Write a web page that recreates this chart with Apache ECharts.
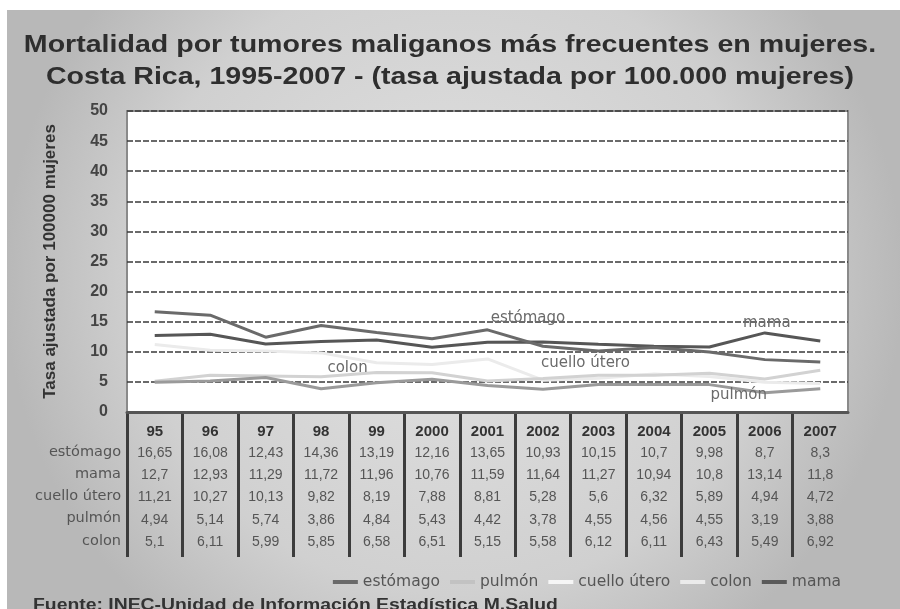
<!DOCTYPE html>
<html><head><meta charset="utf-8">
<script src="https://cdn.jsdelivr.net/npm/echarts@6/dist/echarts.min.js"></script>
<style>html,body{margin:0;padding:0;background:#fff;}#c{width:900px;height:609px;}</style>
</head><body><div id="c"></div>
<script>
const years = ['95','96','97','98','99','2000','2001','2002','2003','2004','2005','2006','2007'];
const seriesNames = ['estómago','mama','cuello útero','pulmón','colon'];
const estomago = [16.65,16.08,12.43,14.36,13.19,12.16,13.65,10.93,10.15,10.7,9.98,8.7,8.3];
const mama = [12.7,12.93,11.29,11.72,11.96,10.76,11.59,11.64,11.27,10.94,10.8,13.14,11.8];
const cuello = [11.21,10.27,10.13,9.82,8.19,7.88,8.81,5.28,5.6,6.32,5.89,4.94,4.72];
const pulmon = [4.94,5.14,5.74,3.86,4.84,5.43,4.42,3.78,4.55,4.56,4.55,3.19,3.88];
const colon = [5.1,6.11,5.99,5.85,6.58,6.51,5.15,5.58,6.12,6.11,6.43,5.49,6.92];
const legendOrder = ['estómago','pulmón','cuello útero','colon','mama'];
const yTicks = [0,5,10,15,20,25,30,35,40,45,50];
const titleLines = ['Mortalidad por tumores maliganos más frecuentes en mujeres.', 'Costa Rica, 1995-2007 - (tasa ajustada por 100.000 mujeres)'];
const yName = 'Tasa ajustada por 100000 mujeres';
const sourceText = 'Fuente: INEC-Unidad de Información Estadística M.Salud';

const tableRows = [estomago, mama, cuello, pulmon, colon];
const fmt = v => String(v).replace('.', ',');
const FONT = '"Liberation Sans", Arial, sans-serif';
const WIDE = '"DejaVu Sans", sans-serif';

const colors = {'estómago':'#6a6a6a','mama':'#565656','cuello útero':'#ebebeb','pulmón':'#9a9a9a','colon':'#d2d2d2'};
const legendColors = {'estómago':'#6a6a6a','mama':'#5a5a5a','cuello útero':'#f6f6f6','pulmón':'#c2c2c2','colon':'#ebebeb'};

const annotations = {
  'estómago': {coord:['2002',15.6], offset:[-15,0]},
  'colon': {coord:['99',7.3], offset:[-29,0]},
  'cuello útero': {coord:['2003',8.1], offset:[-13,0]},
  'mama': {coord:['2006',14.8], offset:[2,0]},
  'pulmón': {coord:['2006',2.8], offset:[-26,0]}
};

const dataByName = {'estómago':estomago,'mama':mama,'cuello útero':cuello,'pulmón':pulmon,'colon':colon};

const chart = echarts.init(document.getElementById('c'));
const plotOrder = ['cuello útero','colon','pulmón','mama','estómago'];
const series = plotOrder.map(n => ({
  name: n, type: 'line', data: dataByName[n], symbol: 'none', xAxisIndex: 0, yAxisIndex: 0,
  lineStyle: {width: 3, color: colors[n]}, itemStyle: {color: legendColors[n]},
  markPoint: {
    symbol: 'circle', symbolSize: 0, silent: true,
    data: [{coord: annotations[n].coord, value: n}],
    label: {show: true, position: 'inside', offset: annotations[n].offset, formatter: n,
      color: '#6a6a6a', fontSize: 15, fontFamily: WIDE}
  }
}));

const rowLabelGraphics = seriesNames.map((n, i) => ({
  type: 'text', x: 121, y: 452 + i * 22.2,
  style: {text: n, fill: '#555', font: '14.5px ' + WIDE, align: 'right', verticalAlign: 'middle', textAlign: 'right', textVerticalAlign: 'middle'}
}));

const titleGraphics = titleLines.map((t, i) => ({
  type: 'text', x: 450, y: 45 + i * 32, scaleX: 1.19,
  style: {text: t, fill: '#2e2e2e', font: 'bold 24px ' + FONT, align: 'center', verticalAlign: 'middle', textAlign: 'center', textVerticalAlign: 'middle'}
}));

chart.setOption({
  animation: false,
  textStyle: {fontFamily: FONT},
  graphic: [
    {type: 'rect', left: 7, top: 10, z: -10, shape: {width: 893, height: 599},
     style: {fill: {type: 'radial', x: 0.5, y: 0.45, r: 0.75,
       colorStops: [{offset: 0, color: '#e2e2e2'}, {offset: 0.7, color: '#d0d0d0'}, {offset: 1, color: '#b8b8b8'}]}}},
    {type: 'text', x: 33, y: 606, scaleX: 1.21,
     style: {text: sourceText, fill: '#333', font: 'bold 16px ' + FONT, align: 'left', verticalAlign: 'middle', textAlign: 'left', textVerticalAlign: 'middle'}}
  ].concat(rowLabelGraphics, titleGraphics),
  legend: {
    data: legendOrder, right: 54, top: 569, itemWidth: 25, itemHeight: 4, itemGap: 10,
    icon: 'rect',
    textStyle: {color: '#555', fontSize: 15.5, fontFamily: WIDE}
  },
  grid: [
    {left: 127, right: 52, top: 111, bottom: 197, show: true, backgroundColor: '#fff', borderColor: '#8a8a8a', borderWidth: 2},
    {left: 127, right: 52, top: 412, height: 145, show: false}
  ],
  xAxis: [{
    type: 'category', data: years, boundaryGap: true, gridIndex: 0,
    axisLine: {lineStyle: {color: '#555', width: 3}},
    axisTick: {show: false},
    axisLabel: {
      margin: 9, interval: 0,
      formatter: (v, i) => ['{y|' + v + '}'].concat(tableRows.map(r => '{v|' + fmt(r[i]) + '}')).join('\n'),
      rich: {
        y: {fontWeight: 'bold', fontSize: 15, color: '#333', lineHeight: 21, fontFamily: FONT},
        v: {fontSize: 14, color: '#555', lineHeight: 22.2, fontFamily: FONT}
      }
    }
  }, {
    type: 'value', gridIndex: 1, min: 0, max: years.length, interval: 1,
    axisLine: {show: false}, axisTick: {show: false}, axisLabel: {show: false},
    splitLine: {show: true, showMinLine: true, showMaxLine: false, lineStyle: {color: '#3c3c3c', width: 3, type: 'solid'}}
  }],
  yAxis: [{
    type: 'value', gridIndex: 0, min: yTicks[0], max: yTicks[yTicks.length - 1], interval: 5,
    name: yName, nameLocation: 'middle', nameGap: 68, nameRotate: 90,
    nameTextStyle: {fontWeight: 'bold', fontSize: 17, color: '#333', fontFamily: FONT},
    axisLine: {show: false}, axisTick: {show: false},
    axisLabel: {fontWeight: 'bold', fontSize: 16, color: '#444', margin: 19, fontFamily: FONT},
    splitLine: {lineStyle: {color: '#3a3a3a', width: 1.5, type: [6, 2]}}
  }, {
    type: 'value', gridIndex: 1, min: 0, max: 1, show: false, splitLine: {show: false}
  }],
  series: series
});
</script></body></html>
